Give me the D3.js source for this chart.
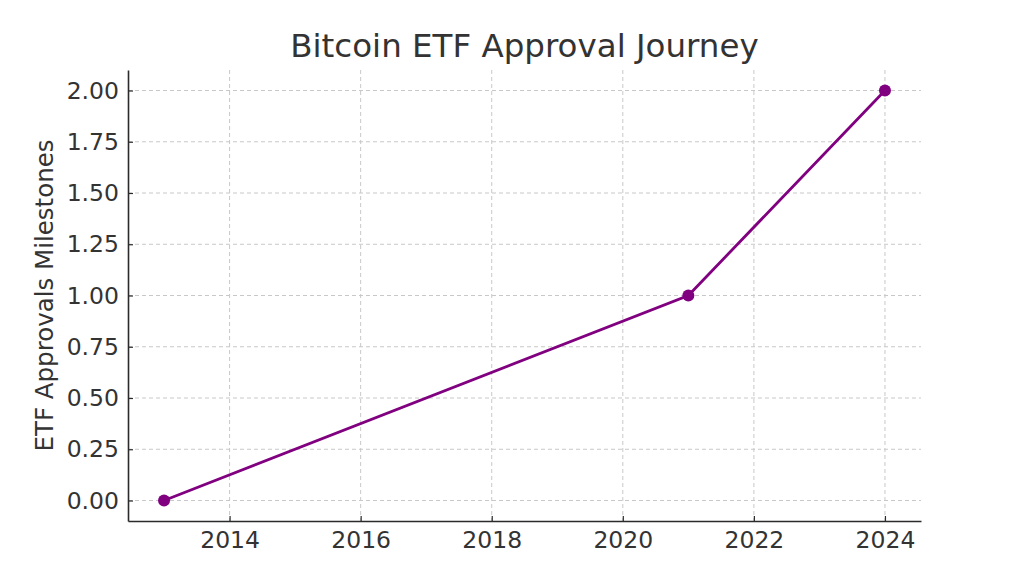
<!DOCTYPE html>
<html>
<head>
<meta charset="utf-8">
<script src="https://cdn.jsdelivr.net/npm/d3@7"></script>
<style>
  body { margin: 0; background: #fff; }
  text { font-family: "DejaVu Sans", sans-serif; fill: #333; }
</style>
</head>
<body>
<div id="chart"></div>
<script>
var years = [2013, 2021, 2024];
var milestones = [0, 1, 2];
var xTicks = [2014, 2016, 2018, 2020, 2022, 2024];
var yTicks = [0, 0.25, 0.5, 0.75, 1, 1.25, 1.5, 1.75, 2];

var margin = {top: 70, right: 103, bottom: 64, left: 128},
    width = 1024 - margin.left - margin.right,
    height = 585 - margin.top - margin.bottom;

var svg = d3.select('#chart')
  .append('svg')
  .attr('width', 1024)
  .attr('height', 585)
  .append('g')
  .attr('transform', `translate(${margin.left},${margin.top})`);

// matplotlib style 5% padding
var x = d3.scaleLinear()
  .domain([2012.45, 2024.55])
  .range([0, width]);

var y = d3.scaleLinear()
  .domain([-0.1, 2.1])
  .range([height, 0]);

// grid
svg.append("g")
  .selectAll("line")
  .data(xTicks)
  .enter().append("line")
  .attr("x1", d => x(d)).attr("x2", d => x(d))
  .attr("y1", 0).attr("y2", height)
  .attr("stroke", "#c8c8c8").attr("stroke-width", 1)
  .attr("stroke-dasharray", "4,3");

svg.append("g")
  .selectAll("line")
  .data(yTicks)
  .enter().append("line")
  .attr("x1", 0).attr("x2", width)
  .attr("y1", d => y(d)).attr("y2", d => y(d))
  .attr("stroke", "#c8c8c8").attr("stroke-width", 1)
  .attr("stroke-dasharray", "4,3");

// axes, ticks inward
var xAxis = svg.append("g")
  .attr("transform", `translate(0,${height})`)
  .call(d3.axisBottom(x).tickValues(xTicks).tickFormat(d3.format("d"))
    .tickSizeInner(-5).tickSizeOuter(0).tickPadding(10));

var yAxis = svg.append("g")
  .call(d3.axisLeft(y).tickValues(yTicks).tickFormat(d3.format(".2f"))
    .tickSizeInner(-5).tickSizeOuter(0).tickPadding(9));

[xAxis, yAxis].forEach(function (a) {
  a.select(".domain").attr("stroke", "#2b2b2b").attr("stroke-width", 1.6);
  a.selectAll(".tick line").attr("stroke", "#2b2b2b").attr("stroke-width", 1.2);
  a.selectAll(".tick text").style("font-size", "23.5px").attr("fill", "#333");
});

// line
var line = d3.line()
  .x((d, i) => x(years[i]))
  .y(d => y(d));

svg.append("path")
  .datum(milestones)
  .attr("fill", "none")
  .attr("stroke", "#800080")
  .attr("stroke-width", 2.8)
  .attr("d", line);

svg.selectAll("circle")
  .data(milestones)
  .enter().append("circle")
  .attr("cx", (d, i) => x(years[i]))
  .attr("cy", d => y(d))
  .attr("r", 6)
  .attr("fill", "#800080");

// title
svg.append("text")
  .attr("x", width / 2)
  .attr("y", -13)
  .attr("text-anchor", "middle")
  .style("font-size", "32.5px")
  .text("Bitcoin ETF Approval Journey");

svg.append("text")
  .attr("transform", "rotate(-90)")
  .attr("x", -height / 2)
  .attr("y", -75)
  .attr("text-anchor", "middle")
  .style("font-size", "24.5px")
  .text("ETF Approvals Milestones");
</script>
</body>
</html>
